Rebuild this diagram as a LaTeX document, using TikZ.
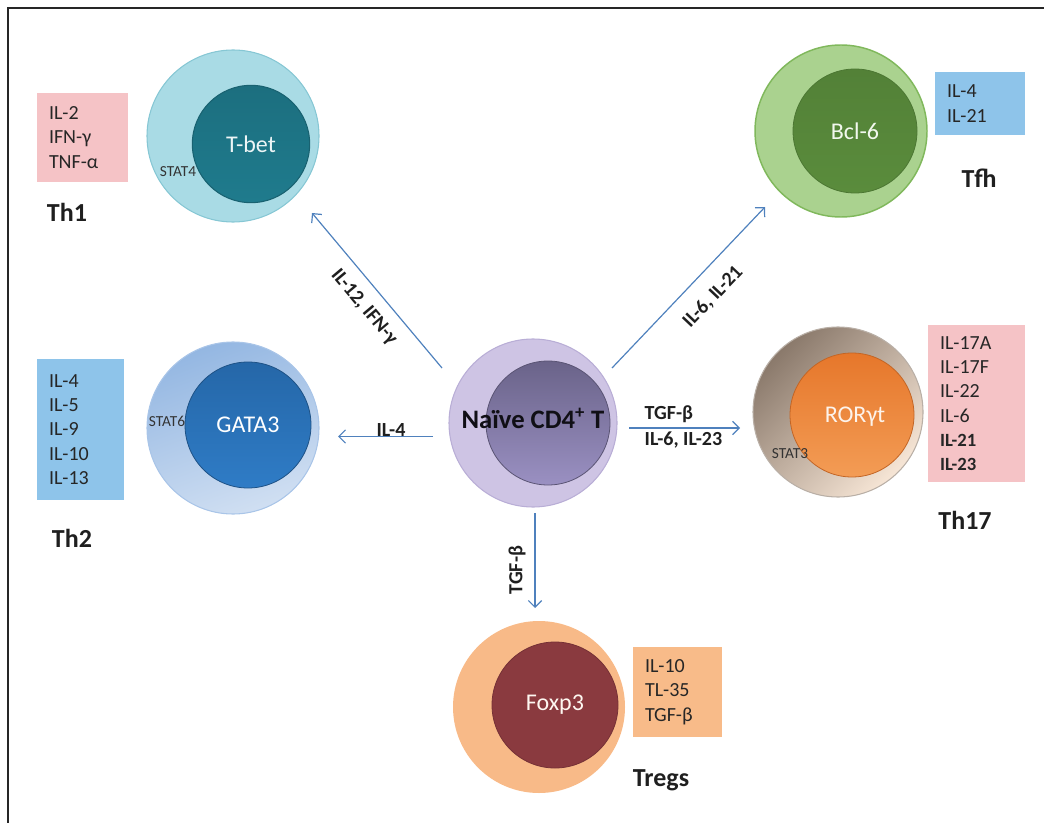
\documentclass[tikz,border=0pt]{standalone}
\usepackage{fontspec}
\setmainfont{Carlito}
\usetikzlibrary{arrows.meta}

% cell palettes
\definecolor{thAout}{HTML}{A9DBE5}
\definecolor{thAoutB}{HTML}{86C7D4}
\definecolor{thAin}{HTML}{1F7B8D}
\definecolor{tfhOut}{HTML}{AAD28F}
\definecolor{tfhOutB}{HTML}{80B85C}
\definecolor{tfhIn}{HTML}{5A8C3C}
\definecolor{thBoutA}{HTML}{94B7E2}
\definecolor{thBoutB}{HTML}{D0DFF2}
\definecolor{thBinA}{HTML}{2567A8}
\definecolor{thBinB}{HTML}{2F7CC6}
\definecolor{naiOut}{HTML}{CEC4E4}
\definecolor{naiOutB}{HTML}{B9AED6}
\definecolor{naiInA}{HTML}{6A6389}
\definecolor{naiInB}{HTML}{9A90C2}
\definecolor{rorOutA}{HTML}{8A796B}
\definecolor{rorOutB}{HTML}{F7E6D6}
\definecolor{rorInA}{HTML}{E6772B}
\definecolor{rorInB}{HTML}{F39C55}
\definecolor{tregOut}{HTML}{F8BA88}
\definecolor{tregIn}{HTML}{8A3A3F}
\definecolor{boxPink}{HTML}{F5C3C6}
\definecolor{boxBlue}{HTML}{8EC4EA}
\definecolor{boxPeach}{HTML}{F8BB89}
\definecolor{flowBlue}{HTML}{4F81BD}
\definecolor{inkDark}{HTML}{1F1F1F}

\begin{document}
\begin{tikzpicture}[x=0.75pt,y=-0.75pt,
  outercell/.style={circle, inner sep=0pt, minimum size=129pt},
  innercell/.style={circle, inner sep=0pt, minimum size=93pt},
  tfname/.style={font=\fontsize{18}{21}\selectfont},
  statname/.style={font=\fontsize{11.5}{13}\selectfont, text=black!80},
  subset/.style={font=\fontsize{19.5}{23}\selectfont\bfseries, text=inkDark},
  cytobox/.style={inner xsep=9pt, inner ysep=0pt, align=left,
    font=\fontsize{15}{18.2}\selectfont, text=black!85},
  flow/.style={draw=flowBlue, line width=0.9pt,
    -{Straight Barb[length=5pt,width=10pt,line width=0.9pt]}},
  flowlabel/.style={font=\fontsize{15}{18}\selectfont\bfseries, text=inkDark}]

\useasboundingbox (0,0) rectangle (1044,823);

% frame
\draw[line width=1.6pt, black!85] (8,823) -- (8,8) -- (1044,8);

% ---------- Th1 ----------
\node[outercell, fill=thAout, draw=thAoutB, line width=0.8pt] (th1o) at (233,136) {};
\node[innercell, minimum size=88pt, draw=thAin!80!black, line width=0.8pt,
      top color=thAin!90!black, bottom color=thAin] (th1i) at (251,144) {};
\node[tfname, text=white!92!thAin] at (th1i) {T-bet};
\node[statname] (stat4) at (178,172) {STAT4};
\node[cytobox, fill=boxPink, minimum width=68.25pt, minimum height=66.75pt,
      text width=50.25pt] (th1box) at (82.5,137.5) {IL-2\\IFN-γ\\TNF-α};
\node[subset] (th1lab) at (67,212) {Th1};

% ---------- Tfh ----------
\node[outercell, fill=tfhOut, draw=tfhOutB, line width=1.1pt] (tfho) at (841,131) {};
\node[innercell, draw=tfhIn!85!black, line width=0.6pt,
      top color=tfhIn!92!black, bottom color=tfhIn] (tfhi) at (855,131) {};
\node[tfname, text=white!85!tfhOut] at (tfhi) {Bcl-6};
\node[cytobox, fill=boxBlue, minimum width=67.5pt, minimum height=47.25pt,
      text width=49.5pt] (tfhbox) at (980,103.5) {IL-4\\IL-21};
\node[subset] (tfhlab) at (979,178) {Tfh};

% ---------- Th2 ----------
\node[outercell, draw=thBoutA!80, line width=0.8pt,
      top color=thBoutA, bottom color=thBoutB, shading angle=20] (th2o) at (233,428) {};
\node[innercell, minimum size=94.5pt, draw=thBinA!80!black, line width=0.6pt,
      top color=thBinA, bottom color=thBinB] (th2i) at (248,425) {};
\node[tfname, text=white] at (th2i) {GATA3};
\node[statname] (stat6) at (167,421) {STAT6};
\node[cytobox, fill=boxBlue, minimum width=65.25pt, minimum height=105.75pt,
      text width=47.25pt] (th2box) at (80.5,429.5) {IL-4\\IL-5\\IL-9\\IL-10\\IL-13};
\node[subset] (th2lab) at (72,538) {Th2};

% ---------- Naive CD4+ T ----------
\node[outercell, minimum size=126pt, fill=naiOut, draw=naiOutB, line width=0.8pt]
      (naive) at (533,423) {};
\node[innercell, draw=naiInA!85!black, line width=0.6pt,
      top color=naiInA, bottom color=naiInB] (naivei) at (548,423) {};
\node[font=\fontsize{20}{24}\selectfont\bfseries, text=black!85!naiInA]
      (naivelab) at (533,418) {Naïve CD4\textsuperscript{+} T};

% ---------- Th17 ----------
\node[outercell, minimum size=127.5pt, draw=rorOutA!60, line width=0.8pt,
      top color=rorOutA, bottom color=rorOutB, shading angle=45] (th17o) at (838,412) {};
\node[innercell, draw=rorInA!85!black, line width=0.6pt,
      top color=rorInA, bottom color=rorInB] (th17i) at (852,415) {};
\node[tfname, text=white!88!rorInB] at (855,417) {RORγt};
\node[statname] (stat3) at (790,454) {STAT3};
\node[cytobox, fill=boxPink, minimum width=72.75pt, minimum height=117.75pt,
      text width=54.75pt] (th17box) at (976.5,403.5)
      {IL-17A\\IL-17F\\IL-22\\IL-6\\{\fontsize{14}{17}\selectfont\bfseries IL-21}\\{\fontsize{14}{17}\selectfont\bfseries IL-23}};
\node[subset] (th17lab) at (965,520) {Th17};

% ---------- Tregs ----------
\node[outercell, fill=tregOut] (trego) at (539,707) {};
\node[innercell, minimum size=94.5pt, fill=tregIn, draw=tregIn!85!black, line width=0.6pt]
      (tregi) at (555,705) {};
\node[tfname, text=white!88!tregOut] at (tregi) {Foxp3};
\node[cytobox, fill=boxPeach, minimum width=66.75pt, minimum height=67.5pt,
      text width=48.75pt] (tregbox) at (677.5,692) {IL-10\\TL-35\\TGF-β};
\node[subset] (treglab) at (661,780) {Tregs};

% ---------- differentiation arrows ----------
\coordinate (toTh1s) at (442,368);   \coordinate (toTh1e) at (312,213);
\coordinate (toTfhs) at (612,368);   \coordinate (toTfhe) at (765,207);
\coordinate (toTh2s) at (433,436.5); \coordinate (toTh2e) at (338,436.5);
\coordinate (toTh17s) at (629,428);  \coordinate (toTh17e) at (740,428);
\coordinate (toTregs) at (535,513);  \coordinate (toTrege) at (535,608);

\draw[flow] (toTh1s) -- (toTh1e);
\draw[flow] (toTfhs) -- (toTfhe);
\draw[flow] (toTh2s) -- (toTh2e);
\draw[flow] (toTh17s) -- (toTh17e);
\draw[flow] (toTregs) -- (toTrege);

\node[flowlabel, rotate=-50] (lblTh1) at (364,307) {IL-12, IFN-γ};
\node[flowlabel, rotate=46.5] (lblTfh) at (713,297) {IL-6, IL-21};
\node[flowlabel, anchor=base] (lblTh2) at (391,436) {IL-4};
\node[flowlabel, anchor=base west] (lblTh17a) at (640,419) {TGF-β};
\node[flowlabel, anchor=base west] (lblTh17b) at (640,445) {IL-6, IL-23};
\node[flowlabel, rotate=90] (lblTreg) at (517,570) {TGF-β};

\end{tikzpicture}
\end{document}
